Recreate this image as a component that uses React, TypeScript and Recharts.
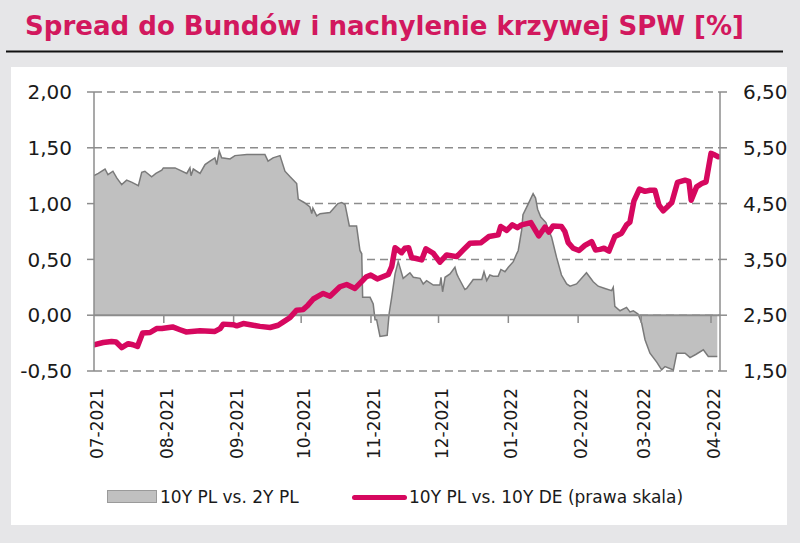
import React from 'react';
import { ComposedChart, Area, Line, XAxis, YAxis, CartesianGrid, ReferenceLine } from 'recharts';

// x = days since 2021-07-01
const monthTicks = [0, 31, 62, 92, 123, 153, 184, 215, 243, 274];
const monthLabels = ['07-2021', '08-2021', '09-2021', '10-2021', '11-2021', '12-2021', '01-2022', '02-2022', '03-2022', '04-2022'];
const leftTicks = [-0.5, 0, 0.5, 1, 1.5, 2];
const rightTicks = [1.5, 2.5, 3.5, 4.5, 5.5, 6.5];

const titleText = 'Spread do Bundów i nachylenie krzywej SPW [%]';
const spreadName = '10Y PL vs. 2Y PL';
const bundName = '10Y PL vs. 10Y DE (prawa skala)';

// 10Y PL vs. 2Y PL (left axis)
const spreadDays = [
  0, 1.9, 4.9, 6.2, 8.4, 10.1, 12.3, 14.5, 16.9, 19.7,
  21.2, 22.6, 25.6, 27.5, 30.1, 30.8, 36, 41.2, 42.6, 43.1,
  44.1, 47.1, 49.3, 51.5, 53.7, 54.5, 55.6, 56.7, 60.4, 62.6,
  67.9, 72.8, 75.9, 77.3, 79.5, 82.6, 84.8, 87.1, 90, 90.7,
  93.3, 95.9, 96.7, 97.2, 98.9, 100.4, 104.8, 108.3, 110, 111.5,
  113.4, 116.6, 118.1, 118.9, 119.3, 122.6, 124, 124.8, 125.5, 127,
  130.2, 131.1, 132.2, 133.7, 135.1, 137.3, 140.3, 141.8, 144.8, 146.2,
  147.7, 150.7, 153.6, 154.1, 154.8, 155.9, 158.1, 160.3, 161.1, 161.8,
  164.7, 165.5, 167.7, 168.4, 172.2, 173.2, 174.4, 175.8, 177.3, 179.5,
  180.7, 182.5, 184, 186.2, 187.7, 188.4, 189.9, 190.5, 192.9, 195,
  196.1, 197, 198.4, 200.7, 201.7, 203.2, 205.4, 207.6, 209.9, 211.4,
  214.3, 218.7, 221.7, 223.9, 226.9, 229.9, 230.6, 231.3, 233.6, 236.5,
  238, 239.5, 241.6, 243.2, 244.7, 246.9, 249.9, 252.1, 253.6, 257.3,
  258.8, 262.5, 264.7, 267.4, 270.6, 272.8, 276.8,
];
const spreadValues = [
  1.25, 1.27, 1.31, 1.26, 1.29, 1.23, 1.17, 1.21, 1.19, 1.16,
  1.28, 1.29, 1.24, 1.27, 1.30, 1.32, 1.32, 1.27, 1.32, 1.25,
  1.31, 1.27, 1.35, 1.38, 1.41, 1.35, 1.47, 1.41, 1.40, 1.43,
  1.44, 1.44, 1.44, 1.38, 1.41, 1.43, 1.29, 1.24, 1.18, 1.04,
  1.01, 0.97, 0.91, 0.96, 0.89, 0.91, 0.92, 1.00, 1.01, 0.99,
  0.80, 0.80, 0.58, 0.55, 0.16, 0.16, 0.10, -0.04, -0.04, -0.19,
  -0.18, 0.02, 0.16, 0.37, 0.48, 0.33, 0.38, 0.34, 0.33, 0.28,
  0.31, 0.27, 0.27, 0.34, 0.21, 0.34, 0.37, 0.43, 0.37, 0.34,
  0.23, 0.24, 0.30, 0.32, 0.32, 0.39, 0.31, 0.36, 0.35, 0.35,
  0.41, 0.39, 0.43, 0.48, 0.55, 0.58, 0.76, 0.90, 1.00, 1.09,
  1.05, 0.95, 0.88, 0.83, 0.77, 0.70, 0.52, 0.36, 0.28, 0.26,
  0.28, 0.38, 0.30, 0.26, 0.24, 0.22, 0.25, 0.08, 0.04, 0.07,
  0.03, 0.04, 0.01, -0.07, -0.22, -0.34, -0.42, -0.49, -0.46, -0.49,
  -0.34, -0.34, -0.38, -0.35, -0.31, -0.37, -0.37,
];

// 10Y PL vs. 10Y DE (right axis)
const bundDays = [
  0, 4.1, 7.8, 9.8, 12.3, 15.2, 17.3, 19.3, 21.6, 24.9,
  27.8, 30.1, 34.9, 38.2, 40.9, 47.1, 53.7, 56, 57.4, 61.8,
  63.4, 66.3, 70.7, 73.7, 78.2, 81.8, 84.1, 87.1, 90, 92.9,
  95, 97.4, 99.6, 101.8, 104.8, 109.2, 112.2, 115.9, 121, 122.9,
  125.8, 130.7, 132.2, 133.7, 136.6, 138.1, 139.7, 141.1, 142.6, 145.5,
  147.4, 150.7, 153.6, 156.6, 161.1, 164, 167, 171.9, 175.4, 179.5,
  180.6, 183.3, 185.8, 188, 189.9, 194, 197.5, 200.3, 202, 203.9,
  207.6, 209.1, 210.6, 212.8, 215.4, 218, 221, 222.7, 224.7, 226.5,
  228.7, 231.3, 234.3, 236.5, 238, 239.8, 242.2, 244.7, 246.9, 249.1,
  250.9, 252.8, 256.6, 259.1, 262.5, 264.2, 265.2, 267.6, 269.9, 271.8,
  274, 275.8, 277.2,
];
const bundValues = [
  1.97, 2.01, 2.03, 2.02, 1.92, 1.99, 1.97, 1.94, 2.18, 2.19,
  2.26, 2.26, 2.29, 2.24, 2.20, 2.22, 2.21, 2.26, 2.34, 2.33,
  2.31, 2.35, 2.32, 2.30, 2.28, 2.32, 2.38, 2.46, 2.59, 2.60,
  2.68, 2.79, 2.84, 2.89, 2.84, 3.01, 3.05, 2.98, 3.19, 3.22,
  3.15, 3.23, 3.37, 3.71, 3.62, 3.70, 3.71, 3.53, 3.52, 3.49,
  3.69, 3.61, 3.45, 3.58, 3.55, 3.67, 3.79, 3.80, 3.91, 3.94,
  4.09, 4.02, 4.12, 4.07, 4.12, 4.16, 3.92, 4.08, 3.99, 4.10,
  4.09, 4.00, 3.80, 3.70, 3.66, 3.75, 3.82, 3.67, 3.68, 3.70,
  3.65, 3.91, 3.97, 4.12, 4.17, 4.55, 4.76, 4.72, 4.74, 4.74,
  4.47, 4.37, 4.52, 4.88, 4.92, 4.90, 4.56, 4.80, 4.86, 4.89,
  5.40, 5.37, 5.34,
];

const spreadData = spreadDays.map((d, i) => ({ d, v: spreadValues[i] }));
const bundData = bundDays.map((d, i) => ({ d, v: bundValues[i] }));

const MAGENTA = '#d6085f';
const AXIS = '#8c8c8c';
const FONT = "'DejaVu Sans', Verdana, sans-serif";

const fmt = (v: number) => v.toFixed(2).replace('.', ',');
const monthLabel = (d: number) => monthLabels[monthTicks.indexOf(d)] ?? '';

const MonthTick = (props: any) => {
  const { x, y, payload } = props;
  const cx = x + 3;
  return (
    <text
      x={cx}
      y={y}
      transform={`rotate(-90 ${cx} ${y})`}
      textAnchor="end"
      dominantBaseline="central"
      fontFamily={FONT}
      fontSize={17}
      fill="#1a1a1a"
    >
      {monthLabel(payload.value)}
    </text>
  );
};

export default function App() {
  return (
    <div style={{ position: 'absolute', left: 0, top: 0, width: 800, height: 543, background: '#e6e6e8', overflow: 'hidden' }}>
      <div style={{ position: 'absolute', left: 11, top: 67, width: 776, height: 458, background: '#ffffff' }} />
      <svg width={800} height={60} style={{ position: 'absolute', left: 0, top: 0 }}>
        <text
          x={25}
          y={35}
          textLength={719}
          lengthAdjust="spacingAndGlyphs"
          fontFamily="'DejaVu Sans Condensed', 'DejaVu Sans', sans-serif"
          fontWeight="bold"
          fontSize={27}
          fill="#d2185e"
        >
          {titleText}
        </text>
        <line x1={6} x2={783} y1={51.5} y2={51.5} stroke="#111" strokeWidth={2} />
      </svg>
      <div style={{ position: 'absolute', left: 0, top: 0 }}>
        <ComposedChart width={800} height={543} margin={{ top: 92, right: 0, bottom: 112, left: 0 }}>
          <CartesianGrid
            yAxisId="left"
            vertical={false}
            stroke={AXIS}
            strokeWidth={1.5}
            strokeDasharray="8 5"
          />
          <XAxis
            dataKey="d"
            type="number"
            domain={[0, 278]}
            ticks={monthTicks}
            interval={0}
            allowDataOverflow
            axisLine={false}
            tickLine={false}
            tickSize={0}
            tickMargin={17}
            height={60}
            tick={<MonthTick />}
          />
          <YAxis
            yAxisId="left"
            domain={[-0.5, 2]}
            ticks={leftTicks}
            interval={0}
            width={94}
            tickFormatter={fmt}
            axisLine={{ stroke: AXIS, strokeWidth: 1.5 }}
            tickLine={{ stroke: AXIS, strokeWidth: 1.5 }}
            tickSize={7}
            tickMargin={15}
            tick={{ fill: '#1a1a1a', fontSize: 20, fontFamily: FONT }}
          />
          <YAxis
            yAxisId="right"
            orientation="right"
            domain={[1.5, 6.5]}
            ticks={rightTicks}
            interval={0}
            width={80}
            tickFormatter={fmt}
            axisLine={{ stroke: AXIS, strokeWidth: 1.5 }}
            tickLine={{ stroke: AXIS, strokeWidth: 1.5 }}
            tickSize={7}
            tickMargin={16}
            tick={{ fill: '#1a1a1a', fontSize: 20, fontFamily: FONT }}
          />
          <Area
            yAxisId="left"
            data={spreadData}
            dataKey="v"
            name={spreadName}
            type="linear"
            baseValue={0}
            fill="#c0c0c0"
            fillOpacity={1}
            stroke="#7a7a7a"
            strokeWidth={1.5}
            isAnimationActive={false}
          />
          <ReferenceLine yAxisId="left" y={0} stroke={AXIS} strokeWidth={2} />
          {monthTicks.slice(1).map((t) => (
            <ReferenceLine
              key={t}
              yAxisId="left"
              segment={[{ x: t, y: 0 }, { x: t, y: -0.07 }]}
              stroke={AXIS}
              strokeWidth={1.5}
            />
          ))}
          <Line
            yAxisId="right"
            data={bundData}
            dataKey="v"
            name={bundName}
            type="linear"
            stroke={MAGENTA}
            strokeWidth={5.5}
            strokeLinejoin="round"
            strokeLinecap="round"
            dot={false}
            isAnimationActive={false}
          />
        </ComposedChart>
      </div>
      <div style={{ position: 'absolute', left: 107, top: 490, width: 48, height: 11, background: '#c0c0c0', border: '1px solid #9a9a9a' }} />
      <div style={{ position: 'absolute', left: 160, top: 486, fontFamily: FONT, fontSize: 17, lineHeight: '22px', color: '#1a1a1a', whiteSpace: 'nowrap' }}>
        {spreadName}
      </div>
      <div style={{ position: 'absolute', left: 352, top: 494.5, width: 55, height: 5, borderRadius: 3, background: MAGENTA }} />
      <div style={{ position: 'absolute', left: 409, top: 486, fontFamily: FONT, fontSize: 17, lineHeight: '22px', color: '#1a1a1a', whiteSpace: 'nowrap' }}>
        {bundName}
      </div>
    </div>
  );
}
